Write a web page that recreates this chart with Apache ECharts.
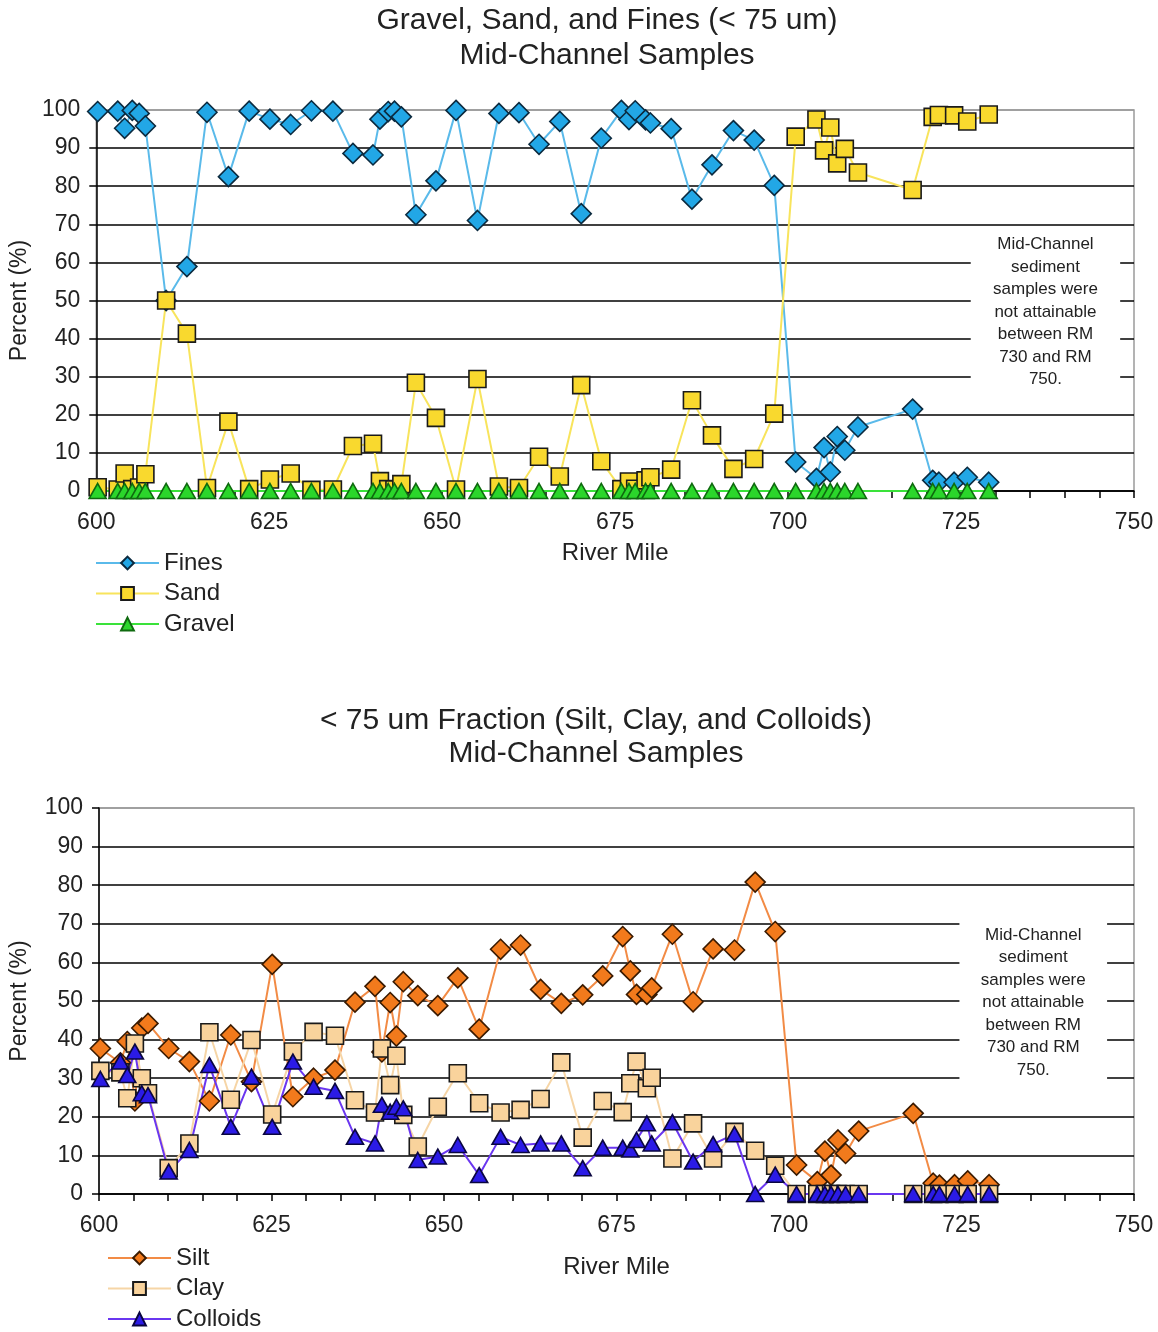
<!DOCTYPE html>
<html>
<head>
<meta charset="utf-8">
<script src="https://cdn.jsdelivr.net/npm/echarts@6/dist/echarts.min.js"></script>
<style>
  html, body { margin: 0; padding: 0; background: #fff; }
  #chart { width: 1158px; height: 1332px; }
</style>
</head>
<body>
<div id="chart"></div>
<script>
// Sample locations (river mile) shared by every series
const riverMile = [600.2, 603.1, 604.1, 605.2, 606.2, 607.1, 610.1, 613.1, 616.0, 619.1,
  622.1, 625.1, 628.1, 631.1, 634.2, 637.1, 640.0, 641.0, 642.2, 643.1,
  644.1, 646.2, 649.1, 652.0, 655.1, 658.2, 661.1, 664.0, 667.0, 670.1,
  673.0, 675.9, 677.0, 677.9, 679.4, 680.1, 683.1, 686.1, 689.0, 692.1,
  695.1, 698.0, 701.1, 704.1, 705.2, 706.1, 707.1, 708.2, 710.1, 718.0,
  720.9, 721.8, 724.0, 725.9, 729.0];

// Grain-size fractions, percent of sample
const fines = [99.6, 99.7, 95.2, 99.9, 99.1, 95.8, 50.0, 58.9, 99.4, 82.5,
  99.7, 97.6, 96.2, 99.8, 99.7, 88.6, 88.2, 97.6, 99.6, 99.7,
  98.2, 72.5, 81.4, 99.9, 71.0, 99.1, 99.3, 91.0, 97.0, 72.8,
  92.6, 99.9, 97.5, 99.8, 97.4, 96.6, 95.1, 76.6, 85.6, 94.6,
  92.1, 80.2, 7.6, 3.3, 11.4, 5.0, 14.3, 10.7, 16.8, 21.5,
  2.8, 2.3, 2.3, 3.6, 2.3];
const sand = [1.0, 0.4, 4.6, 0.5, 0.9, 4.4, 50.0, 41.3, 0.8, 18.2,
  0.5, 3.0, 4.6, 0.3, 0.4, 11.8, 12.4, 2.6, 0.5, 0.4,
  1.8, 28.4, 19.2, 0.4, 29.4, 1.2, 0.8, 9.0, 3.8, 27.8,
  7.8, 0.5, 2.5, 0.6, 2.8, 3.6, 5.6, 23.8, 14.6, 5.8,
  8.4, 20.3, 93.0, 97.5, 89.4, 95.4, 86.0, 89.8, 83.6, 79.0,
  98.2, 98.7, 98.6, 97.0, 98.8];
const gravel = [0, 0, 0, 0, 0, 0, 0, 0, 0, 0,
  0, 0, 0, 0, 0, 0, 0, 0, 0, 0,
  0, 0, 0, 0, 0, 0, 0, 0, 0, 0,
  0, 0, 0, 0, 0, 0, 0, 0, 0, 0,
  0, 0, 0, 0, 0, 0, 0, 0, 0, 0,
  0, 0, 0, 0, 0];

// < 75 um fraction split, percent of sample
const silt = [37.7, 34.0, 39.5, 24.1, 43.0, 44.2, 37.7, 34.3, 24.1, 41.2,
  29.1, 59.5, 25.2, 30.0, 32.1, 49.7, 53.8, 36.8, 49.6, 40.9,
  55.0, 51.4, 48.8, 56.0, 42.7, 63.4, 64.5, 53.0, 49.4, 51.6,
  56.5, 66.7, 57.8, 51.7, 51.7, 53.4, 67.3, 49.8, 63.5, 63.2,
  80.8, 68.0, 7.5, 3.2, 11.1, 4.9, 14.0, 10.5, 16.3, 20.9,
  2.8, 2.3, 2.4, 3.4, 2.4];
const clay = [31.9, 31.5, 24.8, 39.0, 30.0, 26.1, 6.7, 13.1, 41.9, 24.4,
  39.9, 20.6, 36.9, 42.0, 41.0, 24.3, 21.1, 37.7, 28.2, 35.8,
  20.5, 12.3, 22.6, 31.3, 23.5, 21.1, 21.8, 24.6, 34.1, 14.6,
  24.1, 21.2, 28.7, 34.3, 27.4, 30.1, 9.2, 18.3, 9.2, 16.1,
  11.2, 7.3, 0, 0, 0, 0, 0, 0, 0, 0,
  0, 0, 0, 0, 0];
const colloids = [29.8, 34.3, 30.8, 36.9, 26.1, 25.6, 5.8, 11.4, 33.4, 17.4,
  30.4, 17.4, 34.3, 27.8, 26.7, 14.8, 13.1, 23.1, 21.3, 22.6,
  22.2, 8.8, 9.7, 12.7, 4.9, 14.8, 12.7, 13.1, 13.1, 6.7,
  12.0, 12.0, 11.5, 14.0, 18.3, 13.1, 18.6, 8.4, 12.9, 15.5,
  0, 5.0, 0, 0, 0, 0, 0, 0, 0, 0,
  0, 0, 0, 0, 0];

const NOTE = 'Mid-Channel\nsediment\nsamples were\nnot attainable\nbetween RM\n730 and RM\n750.';

const FONT = '"Liberation Sans", Arial, sans-serif';
const TEXT = '#222';
const pairs = vals => riverMile.map((m, i) => [m, vals[i]]);

function xAxis(gridIndex, nameGap) {
  return {
    type: 'value', gridIndex, min: 600, max: 750, interval: 5,
    name: 'River Mile', nameLocation: 'middle', nameGap,
    nameTextStyle: { fontFamily: FONT, fontSize: 24, color: TEXT },
    axisLine: { show: true, onZero: false, lineStyle: { color: '#000', width: 1.5 } },
    axisTick: { show: true, length: 7, lineStyle: { color: '#000', width: 1.5 } },
    axisLabel: { margin: 20, fontFamily: FONT, fontSize: 23, color: TEXT,
      formatter: v => (v % 25 === 0 ? String(v) : '') },
    splitLine: { show: false }
  };
}
function yAxis(gridIndex, nameGap) {
  const gridColors = ['#000', '#000', '#000', '#000', '#000', '#000', '#000', '#000', '#000', '#000', '#9a9a9a'];
  return {
    type: 'value', gridIndex, min: 0, max: 100, interval: 10,
    name: 'Percent (%)', nameLocation: 'middle', nameGap,
    nameTextStyle: { fontFamily: FONT, fontSize: 23, color: TEXT },
    axisLine: { show: true, lineStyle: { color: '#000', width: 1.5 } },
    axisTick: { show: true, length: 7, lineStyle: { color: '#000', width: 1.5 } },
    axisLabel: { margin: 16, fontFamily: FONT, fontSize: 23, color: TEXT },
    splitLine: { show: true, lineStyle: { color: gridColors, width: 1.6 } }
  };
}
function lineSeries(name, vals, idx, line, fill, border, symbol, size) {
  return {
    name, type: 'line', xAxisIndex: idx, yAxisIndex: idx,
    data: pairs(vals), symbol, symbolSize: size, showAllSymbol: true,
    lineStyle: { color: line, width: 2 },
    itemStyle: { color: fill, borderColor: border, borderWidth: 1.6 },
    emphasis: { disabled: true }, animation: false
  };
}
function note(x0, x1, yTop, yBottom) {
  return {
    silent: true,
    itemStyle: { color: '#fff', opacity: 1, borderWidth: 0 },
    label: { show: true, position: 'inside', formatter: NOTE, fontFamily: FONT,
      fontSize: 17, lineHeight: 22.5, color: TEXT, align: 'center' },
    data: [[{ xAxis: x0, yAxis: yTop }, { xAxis: x1, yAxis: yBottom }]]
  };
}

const gravelSeries = lineSeries('Gravel', gravel, 0, '#3ae23a', '#2bd62b', '#0f6a0f', 'triangle', [17, 15]);
gravelSeries.markArea = note(726.4, 748, 69, 25);
const colloidSeries = lineSeries('Colloids', colloids, 1, '#6a36f0', '#2b1be6', '#0a0640', 'triangle', [17, 15]);
colloidSeries.markArea = note(724.7, 746.1, 72.3, 26.9);

const legendText = { fontFamily: FONT, fontSize: 24, color: TEXT, lineHeight: 24 };

const option = {
  animation: false,
  backgroundColor: '#fff',
  title: [
    { text: 'Gravel, Sand, and Fines (< 75 um)\nMid-Channel Samples', left: 607, top: 3, padding: 0,
      textAlign: 'center',
      textStyle: { fontFamily: FONT, fontSize: 30, fontWeight: 'normal', color: TEXT, lineHeight: 35 } },
    { text: '< 75 um Fraction (Silt, Clay, and Colloids)\nMid-Channel Samples', left: 596, top: 704, padding: 0,
      textAlign: 'center',
      textStyle: { fontFamily: FONT, fontSize: 30, fontWeight: 'normal', color: TEXT, lineHeight: 33 } }
  ],
  legend: [
    { orient: 'vertical', left: 95, top: 551, padding: 0, itemWidth: 63, itemHeight: 16, itemGap: 6.5,
      selectedMode: false, data: ['Fines', 'Sand', 'Gravel'], textStyle: legendText },
    { orient: 'vertical', left: 107, top: 1246, padding: 0, itemWidth: 63, itemHeight: 16, itemGap: 6.5,
      selectedMode: false, data: ['Silt', 'Clay', 'Colloids'], textStyle: legendText }
  ],
  grid: [
    { left: 92, right: 24, top: 110, height: 381, show: true, borderColor: '#9a9a9a', borderWidth: 1.5, backgroundColor: 'transparent' },
    { left: 92, right: 24, top: 808, height: 386, show: true, borderColor: '#9a9a9a', borderWidth: 1.5, backgroundColor: 'transparent' }
  ],
  xAxis: [xAxis(0, 50), xAxis(1, 61)],
  yAxis: [yAxis(0, 58), yAxis(1, 68)],
  series: [
    lineSeries('Fines', fines, 0, '#5abaea', '#22a7e6', '#0b2a3f', 'diamond', 20),
    lineSeries('Sand', sand, 0, '#f8e45c', '#f9d92e', '#1a1a1a', 'rect', 17),
    gravelSeries,
    lineSeries('Silt', silt, 1, '#f28b45', '#f27a1c', '#3a1a00', 'diamond', 20),
    lineSeries('Clay', clay, 1, '#f6d5a6', '#f9d39c', '#1a1a1a', 'rect', 17),
    colloidSeries
  ]
};

const chart = echarts.init(document.getElementById('chart'), null, { renderer: 'canvas' });
chart.setOption(option);
</script>
</body>
</html>
